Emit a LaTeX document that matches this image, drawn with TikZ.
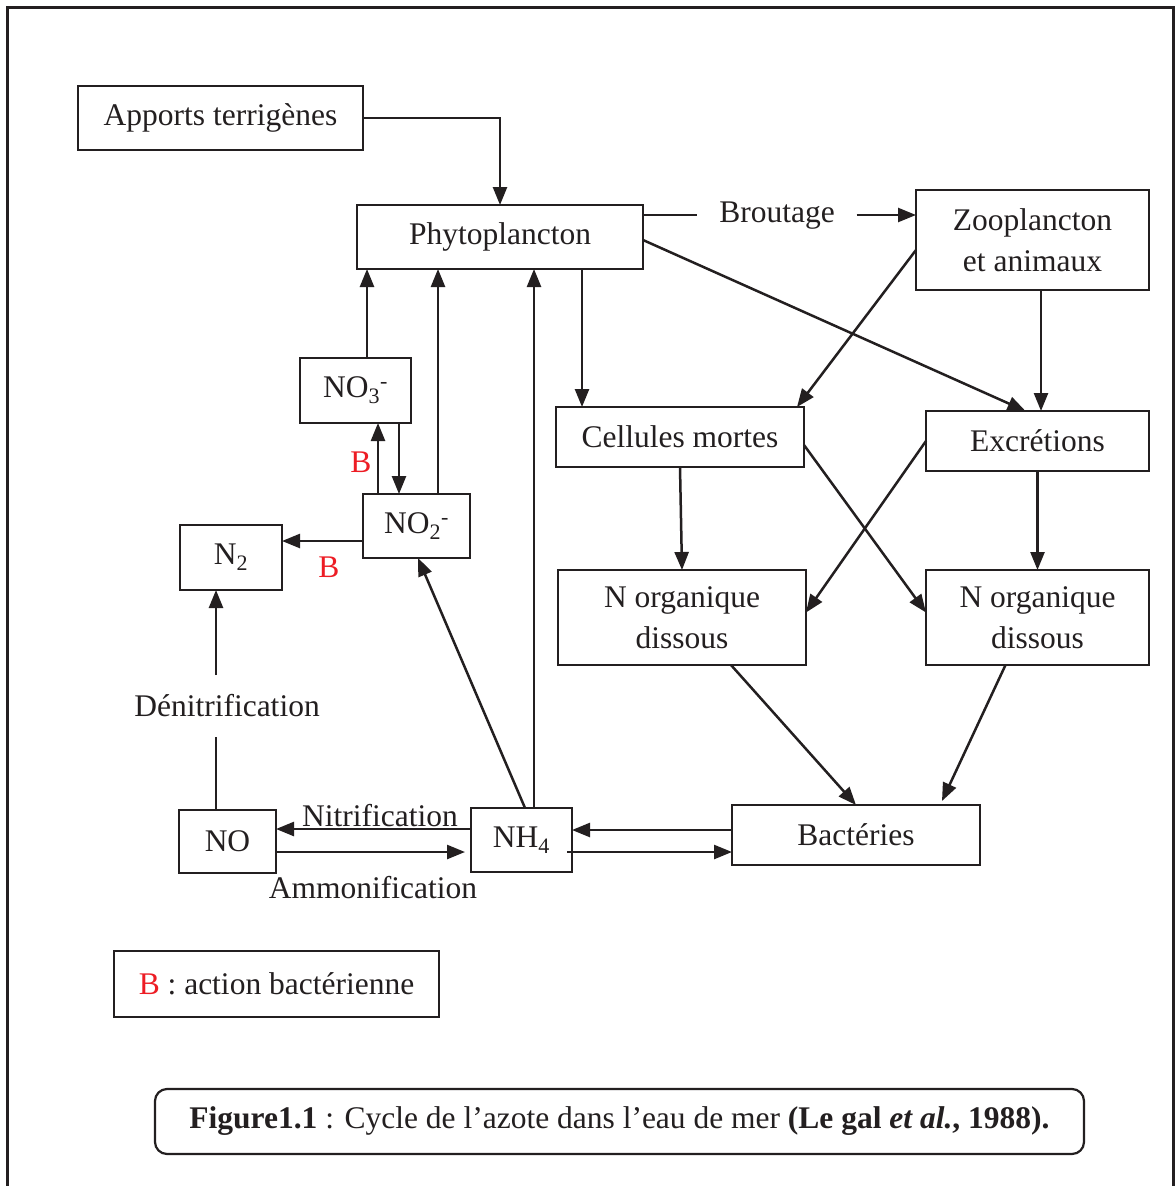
\documentclass[tikz,border=0pt]{standalone}
\usepackage{fontspec}
\setmainfont{Liberation Serif}
\usetikzlibrary{arrows.meta,calc}
\definecolor{ink}{RGB}{35,31,32}
\definecolor{bred}{RGB}{237,28,36}
\tikzset{
  every node/.style={font=\fontsize{31.5}{41}\selectfont, text=ink, inner sep=0pt, outer sep=0pt},
  box/.style={draw=ink, line width=2.2pt, align=center},
  arr/.style={draw=ink, line width=2.5pt, -{Triangle[length=18pt,width=14pt]}},
  ln/.style={draw=ink, line width=2.5pt},
  lbl/.style={fill=white}
}
\begin{document}
\begin{tikzpicture}[x=1pt,y=-1pt]
\useasboundingbox (0,0) rectangle (1175,1186);
\fill[white] (0,0) rectangle (1175,1186);
\draw[ink, line width=3pt] (7,1200) -- (7,7) -- (1173,7) -- (1173,1200);

% boxes
\node[box, minimum width=285pt, minimum height=64pt] (app) at (220.5,118) {Apports terrigènes};
\node[box, minimum width=286pt, minimum height=64pt] (phyto) at (500,237) {Phytoplancton};
\node[box, minimum width=233pt, minimum height=100pt] (zoo) at (1032.5,240) {Zooplancton\\et animaux};
\node[box, minimum width=248pt, minimum height=60pt] (cell) at (680,437) {Cellules mortes};
\node[box, minimum width=223pt, minimum height=60pt] (excr) at (1037.5,441) {Excrétions};
\node[box, minimum width=248pt, minimum height=95pt] (norgL) at (682,617.5) {N organique\\dissous};
\node[box, minimum width=223pt, minimum height=95pt] (norgR) at (1037.5,617.5) {N organique\\dissous};
\node[box, minimum width=248pt, minimum height=60pt] (bact) at (856,835) {Bactéries};
\node[box, minimum width=101pt, minimum height=64pt] (nh4) at (521.5,840) {NH\textsubscript{4}};
\node[box, minimum width=97pt, minimum height=63pt] (no) at (227.5,841.5) {NO};
\node[box, minimum width=102pt, minimum height=65pt] (n2) at (231,557.5) {N\textsubscript{2}};
\node[box, minimum width=107pt, minimum height=64pt] (no2) at (416.5,526) {NO\textsubscript{2}\textsuperscript{-}};
\node[box, minimum width=111pt, minimum height=65pt] (no3) at (355.5,390.5) {NO\textsubscript{3}\textsuperscript{-}};
\node[box, minimum width=325pt, minimum height=66pt] (legend) at (276.5,984) {{\color{bred}B} : action bactérienne};
\node[box, rounded corners=12pt, minimum width=929pt, minimum height=65pt] (caption) at (619.5,1121.5)
  {\textbf{Figure1.1} : Cycle de l’azote dans l’eau de mer \textbf{(Le gal \textit{et al.}, 1988).}};

% labels
\node[inner xsep=22pt] (brout) at (777,216) {Broutage};
\node (nitr) at (380,816) {Nitrification};
\node (ammo) at (373,888) {Ammonification};
\node[minimum height=62pt] (denit) at (227,706) {Dénitrification};
\node (b1) at (361,462) {\color{bred}B};
\node (b2) at (329,567) {\color{bred}B};

% connectors
\draw[arr] (app.east) -| (phyto.north);
\draw[ln] ([yshift=22pt]phyto.east) -- ([yshift=1pt]brout.west);
\draw[arr] ([yshift=1pt]brout.east) -- ([yshift=1pt]brout.east -| zoo.west);
\draw[arr] ([xshift=82pt]phyto.south) -- ([xshift=82pt]phyto.south |- cell.north);
\draw[arr] ([yshift=-10pt]zoo.west) -- ([xshift=-7pt]cell.north east);
\draw[arr] ([yshift=-3pt]phyto.east) -- ([xshift=-12pt]excr.north);
\draw[arr] ([xshift=8.5pt]zoo.south) -- ([xshift=8.5pt]zoo.south |- excr.north);
\draw[arr] (cell.south) -- (norgL.north);
\draw[arr] ([yshift=-8pt]cell.east) -- ([yshift=5pt]norgR.west);
\draw[arr] (excr.west) -- ([yshift=5pt]norgL.east);
\draw[arr] (excr.south) -- (norgR.north);
\draw[arr] ([xshift=49pt]norgL.south) -- (bact.north);
\draw[arr] ([xshift=-32pt]norgR.south) -- ([xshift=86pt,yshift=4pt]bact.north);
\draw[arr] ([yshift=5pt]bact.west) -- ([yshift=5pt]bact.west -| nh4.east);
\draw[arr] ([xshift=-5pt,yshift=-12pt]nh4.east) -- ([yshift=-12pt]nh4.east -| bact.west);
\draw[arr] ([yshift=11pt]nh4.west) -- ([yshift=11pt]nh4.west -| no.east);
\draw[arr, shorten >=6pt] ([yshift=-10.5pt]no.east) -- ([yshift=-10.5pt]no.east -| nh4.west);
\coordinate (dx) at ([xshift=-11.5pt]no.north);
\draw[ln] (dx) -- (dx |- denit.south);
\draw[arr] (dx |- denit.north) -- (dx |- n2.south);
\draw[arr] ([yshift=-15pt]no2.west) -- ([yshift=-15pt]no2.west -| n2.east);
\draw[arr] ([xshift=3.5pt]nh4.north) -- ([xshift=1.5pt]no2.south);
\draw[arr] ([xshift=12.5pt]nh4.north) -- ([xshift=12.5pt]nh4.north |- phyto.south);
\draw[arr] ([xshift=21.5pt]no2.north) -- ([xshift=21.5pt]no2.north |- phyto.south);
\draw[arr] ([xshift=11.5pt]no3.north) -- ([xshift=11.5pt]no3.north |- phyto.south);
\draw[arr] ([xshift=-38.5pt]no2.north) -- ([xshift=-38.5pt]no2.north |- no3.south);
\draw[arr] ([xshift=43.5pt]no3.south) -- ([xshift=43.5pt]no3.south |- no2.north);
\end{tikzpicture}
\end{document}
